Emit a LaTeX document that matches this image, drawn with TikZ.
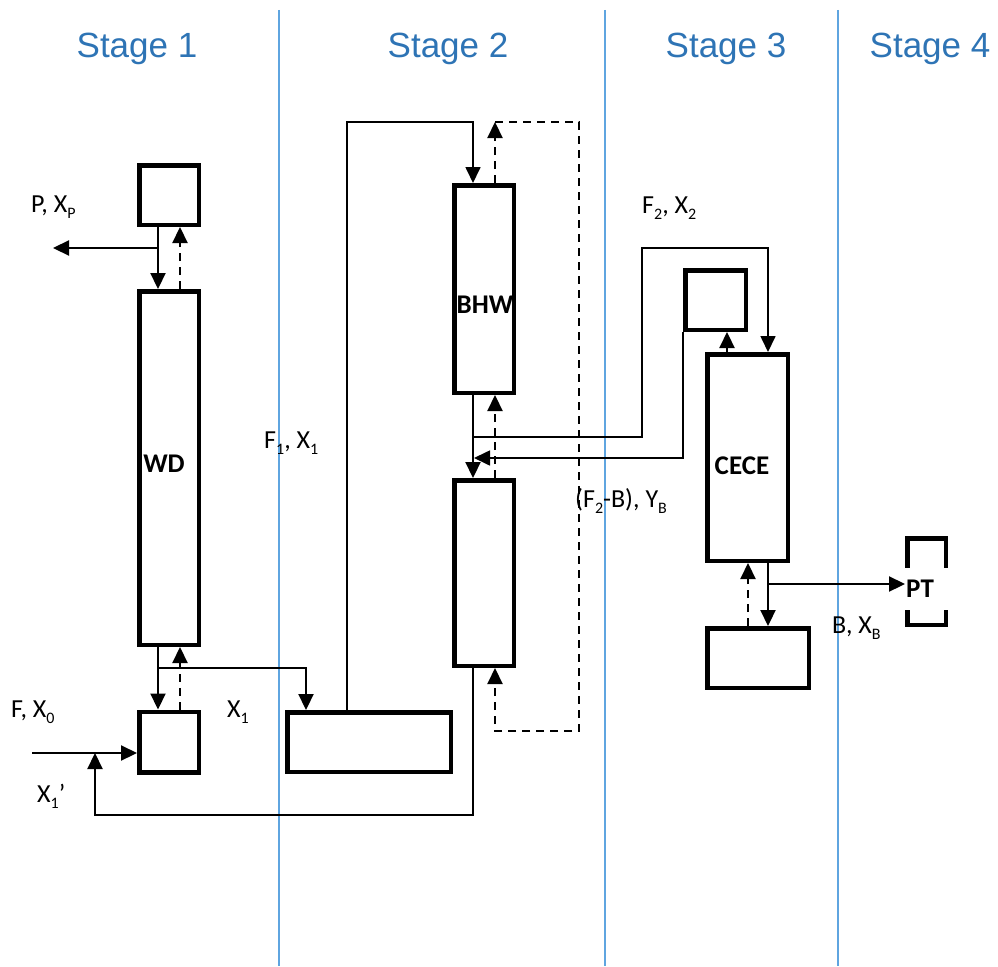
\documentclass[tikz,border=0pt]{standalone}
\usepackage{fontspec}
\setmainfont{Carlito}
\newfontfamily\stagefont{Liberation Sans}
\usetikzlibrary{arrows.meta}
\definecolor{stageblue}{HTML}{2E74B5}
\definecolor{sepblue}{HTML}{5FA5E0}
\newcommand\sbs[1]{\raisebox{-6pt}{\fontsize{16}{16}\selectfont #1}}
\begin{document}
\begin{tikzpicture}[x=1pt,y=-1pt,
 box/.style={draw, line width=4.5pt, rectangle, inner sep=0pt},
 conn/.style={line width=2.2pt},
 thinln/.style={line width=1.7pt},
 dsh/.style={line width=2.2pt, dash pattern=on 8pt off 6pt},
 tip/.style={-{Triangle[length=16pt,width=15pt]}},
 lbl/.style={font=\fontsize{26}{30}\selectfont, inner sep=0pt, anchor=base west},
 bold/.style={font=\fontsize{27}{31}\selectfont\bfseries, inner sep=0pt},
 stage/.style={font=\stagefont\fontsize{35}{40}\selectfont, text=stageblue, inner sep=0pt, anchor=base},
 sep/.style={draw=sepblue, line width=1.3pt}]
\useasboundingbox (0,0) rectangle (998,966);

% stage separators
\coordinate (s1t) at (279,10); \coordinate (s1b) at (279,966);
\coordinate (s2t) at (605,10); \coordinate (s2b) at (605,966);
\coordinate (s3t) at (838,10); \coordinate (s3b) at (838,966);
\draw[sep] (s1t) -- (s1b);
\draw[sep] (s2t) -- (s2b);
\draw[sep] (s3t) -- (s3b);

% stage titles
\node[stage] (st1) at (137,58) {Stage 1};
\node[stage] (st2) at (448,58) {Stage 2};
\node[stage] (st3) at (726,58) {Stage 3};
\node[stage] (st4) at (930,58) {Stage 4};

% boxes
\node[box, minimum width=59.5pt, minimum height=59.5pt] (t1) at (169,195) {};
\node[box, minimum width=59.5pt, minimum height=353.5pt] (wd) at (169,468) {};
\node[box, minimum width=59.5pt, minimum height=60.5pt] (b1) at (169,742) {};
\node[box, minimum width=163.5pt, minimum height=59.5pt] (b2) at (369,742) {};
\node[box, minimum width=59.5pt, minimum height=207.5pt] (bhw) at (484,289) {};
\node[box, minimum width=59.5pt, minimum height=185.5pt] (lc) at (484,573) {};
\node[box, minimum width=60.5pt, minimum height=59.5pt] (t3) at (715.5,300) {};
\node[box, minimum width=80.5pt, minimum height=206.5pt] (cece) at (747.5,457.5) {};
\node[box, minimum width=101.5pt, minimum height=59.5pt] (bb) at (758,658) {};
\node[box, minimum width=38.5pt, minimum height=86.5pt] (pt) at (926.5,581.5) {};

% box labels
\node[bold] (wdl) at (164,464) {WD};
\node[bold] (bhwl) at (485,305) {BHW};
\node[bold] (cecel) at (742,466) {CECE};
\node[fill=white, minimum width=49pt, minimum height=42pt, inner sep=0pt] (ptp) at (926.5,589) {};
\node[bold, anchor=west] (ptl) at (906,589) {PT};

% ---- Stage 1 connectors
\draw[conn,tip] ([xshift=-11pt]t1.south) -- ([xshift=-11pt]wd.north);
\draw[dsh,tip] ([xshift=11pt]wd.north) -- ([xshift=11pt]t1.south);
\coordinate (pj) at (158,248); \coordinate (pout) at (53,248);
\draw[conn,tip] (pj) -- (pout);
\draw[conn,tip] ([xshift=-11pt]wd.south) -- ([xshift=-11pt]b1.north);
\draw[dsh,tip] ([xshift=11pt]b1.north) -- ([xshift=11pt]wd.south);
\coordinate (xj) at (158,668);
\draw[conn,tip] (xj) -| ([xshift=-63pt]b2.north);
\coordinate (fin) at (32,753);
\draw[conn,tip] (fin) -- (fin -| b1.west);
\coordinate (rb) at (95,815);
\draw[conn,tip] ([xshift=-11pt]lc.south) |- (rb) -- (rb |- fin);

% ---- Stage 2 connectors
\coordinate (tl) at (347,122);
\coordinate (bhwn) at ([xshift=-11pt]bhw.north);
\draw[thinln,tip] ([xshift=-22pt]b2.north) |- (bhwn |- tl) -- (bhwn);
\coordinate (bhwd) at ([xshift=11pt]bhw.north);
\coordinate (dr) at (579,122);
\coordinate (db) at (579,731);
\coordinate (lcd) at ([xshift=11pt]lc.south);
\draw[dsh,tip] (bhwd) -- (bhwd |- dr);
\draw[dsh,tip] (bhwd |- dr) -- (dr) -- (db) -- (lcd |- db) -- (lcd);
\draw[conn,tip] ([xshift=-11pt]bhw.south) -- ([xshift=-11pt]lc.north);
\draw[dsh,tip] ([xshift=11pt]lc.north) -- ([xshift=11pt]bhw.south);
\coordinate (f2j) at (473,437); \coordinate (f2c) at (642,248);
\coordinate (cecen) at ([xshift=20.5pt]cece.north);
\draw[thinln,tip] (f2j) -| (f2c) -| (cecen);
\coordinate (rfj) at (474,458);
\draw[thinln,tip] (t3.south west) |- (rfj);

% ---- Stage 3 connectors
\coordinate (ced) at ([xshift=-20.5pt]cece.north);
\draw[dsh,tip] (ced) -- (ced |- t3.south);
\coordinate (ces) at ([xshift=20.5pt]cece.south);
\draw[conn,tip] (ces) -- (ces |- bb.north);
\coordinate (bbd) at ([xshift=-10pt]bb.north);
\draw[dsh,tip] (bbd) -- (bbd |- cece.south);
\coordinate (bj) at (768,584);
\draw[conn,tip] (bj) -- (bj -| pt.west);

% ---- stream labels
\node[lbl] (lp) at (31,212) {P, X\sbs{P}};
\node[lbl] (lf) at (11,717) {F, X\sbs{0}};
\node[lbl] (lx1) at (227,717) {X\sbs{1}};
\node[lbl] (lx1p) at (37,802) {X\sbs{1}’};
\node[lbl] (lf1) at (264,448) {F\sbs{1}, X\sbs{1}};
\node[lbl] (lfb) at (575,507) {(F\sbs{2}-B), Y\sbs{B}};
\node[lbl] (lf2) at (642,213) {F\sbs{2}, X\sbs{2}};
\node[lbl] (lb) at (832,633) {B, X\sbs{B}};
\end{tikzpicture}
\end{document}
